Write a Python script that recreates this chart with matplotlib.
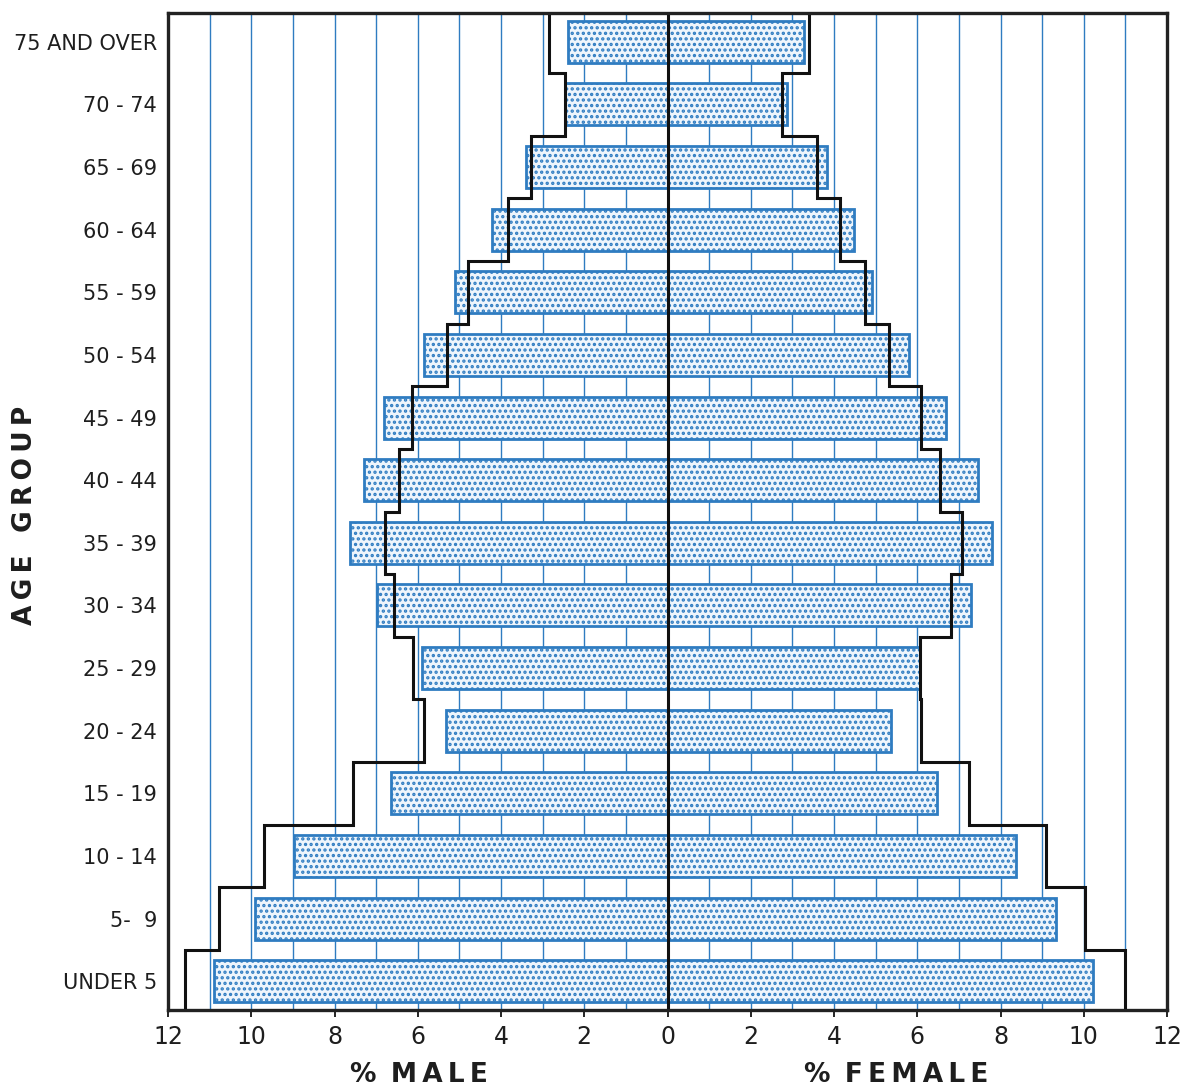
import numpy as np
import matplotlib
matplotlib.use("Agg")
import matplotlib.pyplot as plt
from matplotlib.transforms import blended_transform_factory

age_groups = ["UNDER 5", "5-  9", "10-14", "15-19", "20-24", "25-29", "30-34",
              "35-39", "40-44", "45-49", "50-54", "55-59", "60-64", "65-69",
              "70-74", "75 AND OVER"]
age_labels = ["UNDER 5", "5-  9", "10 - 14", "15 - 19", "20 - 24", "25 - 29", "30 - 34",
              "35 - 39", "40 - 44", "45 - 49", "50 - 54", "55 - 59", "60 - 64", "65 - 69",
              "70 - 74", "75 AND OVER"]

male_bar = [10.89, 9.90, 8.97, 6.65, 5.32, 5.89, 6.98, 7.63, 7.30, 6.80, 5.84, 5.10, 4.21, 3.41, 2.46, 2.40]
female_bar = [10.22, 9.33, 8.38, 6.48, 5.37, 6.07, 7.30, 7.80, 7.46, 6.68, 5.80, 4.92, 4.48, 3.82, 2.86, 3.29]
male_line = [11.59, 10.77, 9.69, 7.56, 5.86, 6.12, 6.58, 6.78, 6.45, 6.13, 5.30, 4.79, 3.84, 3.27, 2.47, 2.85]
female_line = [10.98, 10.02, 9.09, 7.25, 6.08, 6.07, 6.81, 7.08, 6.54, 6.10, 5.33, 4.75, 4.14, 3.59, 2.75, 3.40]

x_ticks = [-12, -10, -8, -6, -4, -2, 0, 2, 4, 6, 8, 10, 12]
x_tick_labels = ["12", "10", "8", "6", "4", "2", "0", "2", "4", "6", "8", "10", "12"]

BLUE = "#2f7cc1"
FILL = "#eef5fc"
TXT = "#1e1e1e"

plt.rcParams['hatch.linewidth'] = 1.6
plt.rcParams['font.family'] = ['DejaVu Sans']

fig = plt.figure(figsize=(11.84, 10.92), dpi=100)
ax = fig.add_axes([168/1184, 1 - 1010/1092, (1167-168)/1184, (1010-13)/1092])

n = len(age_groups)
y = np.arange(n)
ylo, yhi = -0.46, n - 1 + 0.46
ax.set_xlim(-12, 12)
ax.set_ylim(ylo, yhi)

# vertical grid lines
for gx in range(-11, 12):
    if gx == 0:
        continue
    ax.axvline(gx, color=BLUE, lw=1.0, zorder=1)

bh = 0.67
ax.barh(y, -np.array(male_bar), height=bh, color=FILL, edgecolor=BLUE,
        linewidth=2, hatch='...', zorder=2)
ax.barh(y, np.array(female_bar), height=bh, color=FILL, edgecolor=BLUE,
        linewidth=2, hatch='...', zorder=2)

# step lines
edges = np.concatenate([[ylo], np.arange(n - 1) + 0.5, [yhi]])
ys = np.repeat(edges, 2)[1:-1]
xm = -np.repeat(np.array(male_line), 2)
xf = np.repeat(np.array(female_line), 2)
ax.plot(xm, ys, color="#111111", lw=2.2, zorder=4, solid_joinstyle='miter')
ax.plot(xf, ys, color="#111111", lw=2.2, zorder=4, solid_joinstyle='miter')

ax.axvline(0, color="#111111", lw=2.2, zorder=5)

for s in ax.spines.values():
    s.set_linewidth(2.4)
    s.set_color("#222222")
    s.set_zorder(6)

ax.set_xticks(x_ticks)
ax.set_xticklabels(x_tick_labels)
ax.set_yticks(y)
ax.set_yticklabels(age_labels)
ax.tick_params(axis='y', length=0, pad=8, labelsize=15, labelcolor=TXT)
ax.tick_params(axis='x', length=5, width=1.2, direction='out', pad=6, labelsize=17, labelcolor=TXT)

tr = blended_transform_factory(ax.transData, fig.transFigure)
ax.text(-5.98, 1 - 1075/1092, "%\u2009 M\u2009A\u2009L\u2009E", transform=tr, ha='center', va='center',
        fontsize=19, fontweight='bold', color=TXT)
ax.text(5.5, 1 - 1075/1092, "%\u2009 F\u2009E\u2009M\u2009A\u2009L\u2009E", transform=tr, ha='center', va='center',
        fontsize=19, fontweight='bold', color=TXT)
fig.text(25/1184, 1 - 515/1092, "A\u2009G\u2009E\u2002 G\u2009R\u2009O\u2009U\u2009P", rotation=90,
         ha='center', va='center', fontsize=19, fontweight='bold', color=TXT)

fig.savefig("out.png", dpi=100, facecolor="white")
